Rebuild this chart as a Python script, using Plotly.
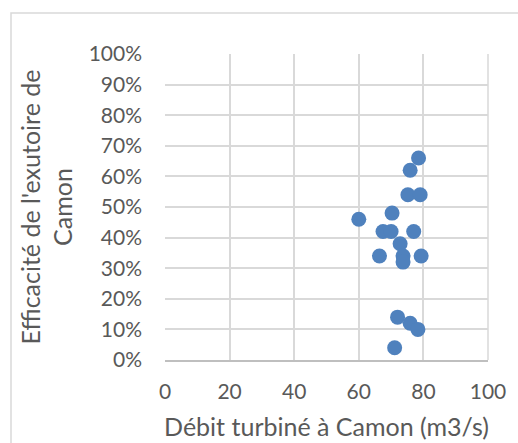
import plotly.graph_objects as go

debit = [60, 70.3, 67.5, 70.0, 77.0, 72.8, 66.4, 73.7, 73.7, 79.3, 75.2, 79.0, 75.9, 78.5, 72.0, 75.9, 78.3, 71.1]
efficacite = [0.46, 0.48, 0.42, 0.42, 0.42, 0.38, 0.34, 0.34, 0.32, 0.34, 0.54, 0.54, 0.62, 0.66, 0.14, 0.12, 0.10, 0.04]

x_ticks = [0, 20, 40, 60, 80, 100]
y_ticks = [i / 10 for i in range(11)]
y_tick_labels = [f"{i*10}%" for i in range(11)]

FONT = "Lato"
TXT = "#595959"

fig = go.Figure()
fig.add_trace(go.Scatter(
    x=debit, y=efficacite, mode="markers",
    marker=dict(size=15, color="#4F81BD", line=dict(width=0)),
    showlegend=False, hoverinfo="x+y",
))

W, H = 518, 443
L, R, T, B = 165, 30, 54, 83
pw, ph = W - L - R, H - T - B

fig.update_layout(
    width=W, height=H,
    margin=dict(l=L, r=R, t=T, b=B, pad=0, autoexpand=False),
    paper_bgcolor="white", plot_bgcolor="white",
    font=dict(family=FONT, size=21, color=TXT),
    xaxis=dict(
        range=[0, 100], tickvals=x_ticks, ticktext=[str(v) for v in x_ticks],
        showgrid=True, gridcolor="#D9D9D9", gridwidth=1.5,
        zeroline=False, showline=True, linecolor="#BFBFBF", linewidth=1.5,
        mirror=False, ticks="", ticklabelstandoff=12, automargin=False,
        title=dict(text="Débit turbiné à Camon (m3/s)", font=dict(size=25, color=TXT), standoff=17),
        fixedrange=True,
    ),
    yaxis=dict(
        range=[0, 1], tickvals=y_ticks, ticktext=y_tick_labels,
        showgrid=True, gridcolor="#D9D9D9", gridwidth=1.5,
        zeroline=False, showline=False, automargin=False,
        ticks="", ticklabelstandoff=22,
        title=dict(text="Efficacité de l'exutoire de<br>Camon", font=dict(size=25, color=TXT), standoff=8),
        fixedrange=True,
    ),
    shapes=[
        # right edge of plot frame
        dict(type="line", xref="paper", yref="paper", x0=1, x1=1, y0=0, y1=1,
             line=dict(color="#D9D9D9", width=1.5)),
        # outer chart border (left and top edges visible)
        dict(type="rect", xref="paper", yref="paper",
             x0=(11 - L) / pw, x1=(W + 20 - L) / pw,
             y0=(H - B - (H + 20)) / ph, y1=(H - B - 13) / ph,
             line=dict(color="#D9D9D9", width=1.5), layer="below"),
    ],
)

fig.write_html("out.html")
